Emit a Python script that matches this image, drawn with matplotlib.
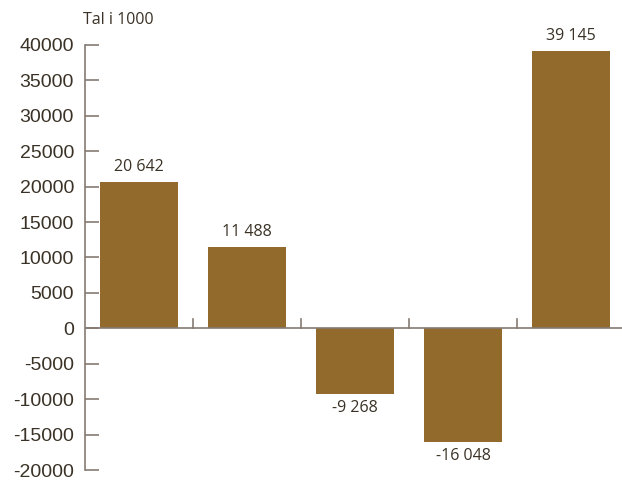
import numpy as np
import matplotlib
matplotlib.use("Agg")
import matplotlib.pyplot as plt

# bar values (thousands)
values = [20642, 11488, -9268, -16048, 39145]
labels = ["20 642", "11 488", "-9 268", "-16 048", "39 145"]
yticks = np.arange(-20000, 40001, 5000)

bar_color = "#916a2c"
axis_color = "#857a72"
text_color = "#3a3226"

fig = plt.figure(figsize=(6.22, 4.80), dpi=100)
ax = fig.add_axes([0.1367, 0.0208, 0.868, 0.8855])

x = np.arange(len(values))
ax.bar(x, values, width=0.722, color=bar_color)

for xi, v, lab in zip(x, values, labels):
    if v >= 0:
        ax.annotate(lab, (xi, v), textcoords="offset points", xytext=(0, 5),
                    ha="center", va="bottom", fontsize=11.5, family="Open Sans",
                    color=text_color)
    else:
        ax.annotate(lab, (xi, v), textcoords="offset points", xytext=(0, -4),
                    ha="center", va="top", fontsize=11.5, family="Open Sans",
                    color=text_color)

ax.set_xlim(-0.5, 4.5)
ax.set_ylim(-20000, 40000)
ax.set_yticks(yticks)
ax.set_yticklabels([str(t) for t in yticks], fontsize=14,
                   family="Liberation Sans", color=text_color)
ax.tick_params(axis="y", direction="in", length=10, width=1.2, color=axis_color, pad=8)

# category separators on the zero line
ax.set_xticks([])
for sx in [0.5, 1.5, 2.5, 3.5]:
    ax.plot([sx, sx], [0, 1300], color=axis_color, lw=1.2, clip_on=False)
ax.axhline(0, color=axis_color, lw=1.2)

for s in ["top", "right", "bottom"]:
    ax.spines[s].set_visible(False)
ax.spines["left"].set_color(axis_color)
ax.spines["left"].set_linewidth(1.2)

fig.text(0.133, 0.958, "Tal i 1000", fontsize=11.5, family="Open Sans",
         color=text_color, va="center", ha="left")

fig.savefig("out.png", dpi=100)
